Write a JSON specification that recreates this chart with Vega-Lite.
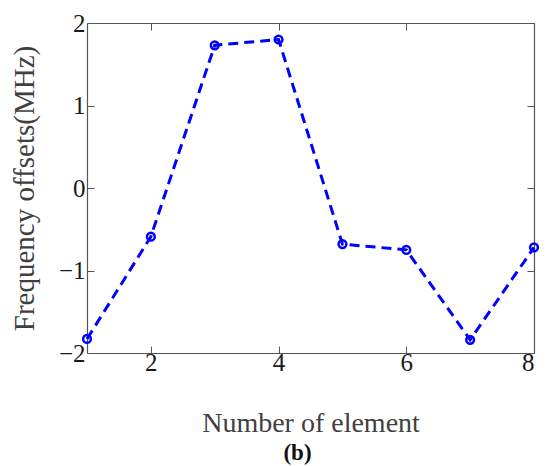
{
  "$schema": "https://vega.github.io/schema/vega-lite/v6.json",
  "width": 447,
  "height": 330,
  "autosize": {"type": "none"},
  "padding": {"left": 87, "top": 23, "right": 16, "bottom": 113},
  "background": "white",
  "config": {"view": {"stroke": null}},
  "title": {"text": "(b)", "orient": "bottom", "font": "Liberation Serif", "fontSize": 23, "fontWeight": "bold", "color": "#111", "anchor": "middle", "offset": 5, "dx": -13},
  "data": {"values": [
    {"element": 1, "offset": -1.83},
    {"element": 2, "offset": -0.59},
    {"element": 3, "offset": 1.73},
    {"element": 4, "offset": 1.80},
    {"element": 5, "offset": -0.68},
    {"element": 6, "offset": -0.75},
    {"element": 7, "offset": -1.84},
    {"element": 8, "offset": -0.72}
  ]},
  "layer": [
    {
      "mark": {"type": "line", "color": "#0000FF", "strokeWidth": 3, "strokeDash": [10, 6]},
      "encoding": {
        "x": {"field": "element", "type": "quantitative", "scale": {"domain": [1, 8], "nice": false, "zero": false},
          "axis": {"orient": "bottom", "title": "Number of element", "values": [2, 4, 6, 8], "tickSize": -7, "tickColor": "#555", "domainColor": "#555", "domainWidth": 1.2, "grid": false,
            "labelFont": "Liberation Serif", "labelFontSize": 25, "labelColor": "#1a1a1a", "labelPadding": 4,
            "titleFont": "Liberation Serif", "titleFontSize": 28, "titleFontWeight": "normal", "titleColor": "#404040", "titleY": 78, "titleBaseline": "alphabetic"}},
        "y": {"field": "offset", "type": "quantitative", "scale": {"domain": [-2, 2], "nice": false, "zero": false},
          "axis": {"orient": "left", "title": "Frequency offsets(MHz)", "values": [-2, -1, 0, 1, 2], "tickSize": -7, "tickColor": "#555", "domainColor": "#555", "domainWidth": 1.2, "grid": false,
            "labelFont": "Liberation Serif", "labelFontSize": 25, "labelColor": "#1a1a1a", "labelPadding": 9, "labelExpr": "replace(datum.label, '-', '−')",
            "titleFont": "Liberation Serif", "titleFontSize": 29, "titleFontWeight": "normal", "titleColor": "#404040", "titleX": -54, "titleBaseline": "alphabetic"}}
      }
    },
    {
      "mark": {"type": "point", "shape": "circle", "filled": false, "color": "#0000FF", "size": 60, "strokeWidth": 2.5, "opacity": 1},
      "encoding": {
        "x": {"field": "element", "type": "quantitative",
          "axis": {"orient": "top", "title": null, "values": [2, 4, 6, 8], "labels": false, "tickSize": -7, "tickColor": "#555", "domainColor": "#555", "domainWidth": 1.2, "grid": false}},
        "y": {"field": "offset", "type": "quantitative",
          "axis": {"orient": "right", "title": null, "values": [-2, -1, 0, 1, 2], "labels": false, "tickSize": -7, "tickColor": "#555", "domainColor": "#555", "domainWidth": 1.2, "grid": false}}
      }
    }
  ],
  "resolve": {"axis": {"x": "independent", "y": "independent"}}
}
